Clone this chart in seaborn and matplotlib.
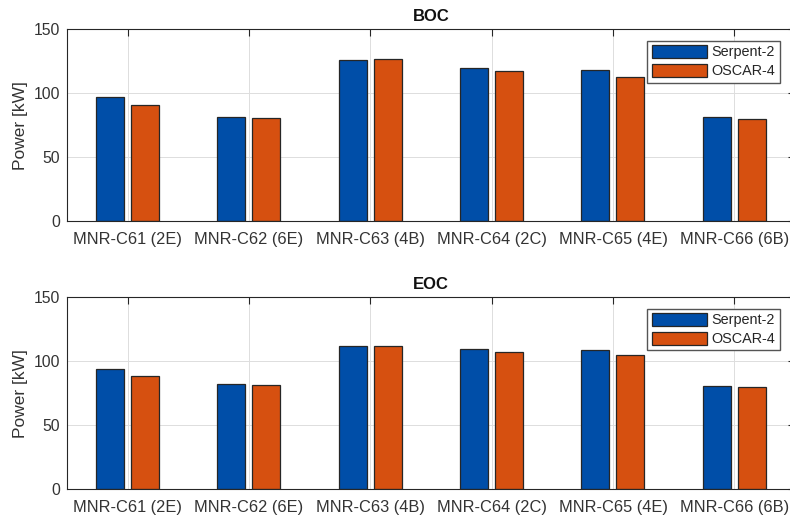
import numpy as np
import pandas as pd
import matplotlib
matplotlib.use('Agg')
import matplotlib.pyplot as plt
import seaborn as sns

# --- data ---
cases = ['MNR-C61 (2E)', 'MNR-C62 (6E)', 'MNR-C63 (4B)',
         'MNR-C64 (2C)', 'MNR-C65 (4E)', 'MNR-C66 (6B)']
codes = ['Serpent-2', 'OSCAR-4']

boc_serpent = [97.0, 81.5, 126.0, 120.0, 118.5, 81.2]
boc_oscar = [91.0, 81.0, 126.5, 117.7, 113.0, 80.0]
eoc_serpent = [94.0, 82.5, 112.2, 109.6, 108.8, 80.5]
eoc_oscar = [88.5, 81.7, 112.2, 107.0, 104.7, 79.7]

colors = ['#004EA8', '#D65010']
text_color = '#333333'


def long_frame(serpent, oscar):
    return pd.DataFrame({
        'case': cases * 2,
        'code': [codes[0]] * len(cases) + [codes[1]] * len(cases),
        'power': list(serpent) + list(oscar),
    })


sns.set_style('white')
plt.rcParams['font.family'] = ['Liberation Sans', 'DejaVu Sans']

fig = plt.figure(figsize=(7.9, 5.19), dpi=100)
ax_top = fig.add_axes([0.0848, 0.5742, 0.9215, 0.369])
ax_bot = fig.add_axes([0.0848, 0.0572, 0.9215, 0.370])

panels = [(ax_top, 'BOC', boc_serpent, boc_oscar),
          (ax_bot, 'EOC', eoc_serpent, eoc_oscar)]

for ax, title, serpent, oscar in panels:
    df = long_frame(serpent, oscar)
    sns.barplot(data=df, x='case', y='power', hue='code', order=cases,
                hue_order=codes, palette=colors, width=0.577, gap=0.2,
                edgecolor='#262626', linewidth=0.9, errorbar=None,
                saturation=1, ax=ax)

    ax.set_ylim(0, 150)
    ax.set_yticks([0, 50, 100, 150])
    ax.set_xlim(-0.5, 5.5)
    ax.set_xlabel('')
    ax.set_ylabel('Power [kW]', fontsize=12.5, color=text_color, labelpad=4)
    ax.set_title(title, fontsize=12, fontweight='bold', color='#111111', pad=6)

    ax.grid(True, color='#DDDDDD', linewidth=0.7)
    ax.set_axisbelow(True)
    for sp in ax.spines.values():
        sp.set_visible(True)
        sp.set_color('#262626')
        sp.set_linewidth(0.8)

    ax.tick_params(axis='both', direction='in', length=5, width=0.8,
                   colors='#262626', top=True, right=True)
    ax.tick_params(axis='x', labelsize=11.8, labelcolor=text_color, pad=8)
    ax.tick_params(axis='y', labelsize=11.3, labelcolor=text_color, pad=5)

    handles, labels = ax.get_legend_handles_labels()
    ax.legend(handles, labels, loc='upper right',
              bbox_to_anchor=(0.979, 0.9415), borderaxespad=0,
              fontsize=10.4, handlelength=3.8, handleheight=1.0,
              handletextpad=0.35, labelspacing=0.3, borderpad=0.3,
              fancybox=False, framealpha=1, edgecolor='#555555')

fig.savefig('out.png', dpi=100)
